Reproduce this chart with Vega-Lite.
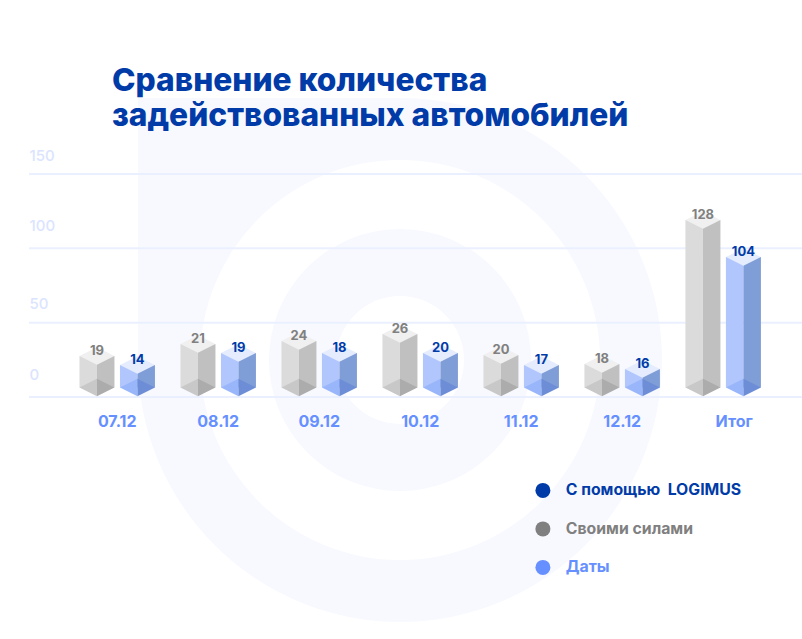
{
  "$schema": "https://vega.github.io/schema/vega-lite/v6.json",
  "width": 773,
  "height": 223,
  "padding": {"left": 29, "top": 174, "right": 0, "bottom": 242},
  "autosize": "none",
  "background": "#ffffff",
  "title": {
    "text": ["Сравнение количества", "задействованных автомобилей"],
    "anchor": "start",
    "frame": "group",
    "dx": 83,
    "offset": -35,
    "font": "Inter",
    "fontSize": 31.7,
    "fontWeight": 800,
    "lineHeight": 35.5,
    "color": "#003ba8"
  },
  "config": {
    "view": {"stroke": null},
    "font": "Inter"
  },
  "datasets": {
    "bars": [
      {"date": "07.12", "series": "Своими силами", "value": 19, "height": 27.6},
      {"date": "07.12", "series": "С помощью  LOGIMUS", "value": 14, "height": 21.5},
      {"date": "08.12", "series": "Своими силами", "value": 21, "height": 35.6},
      {"date": "08.12", "series": "С помощью  LOGIMUS", "value": 19, "height": 29.6},
      {"date": "09.12", "series": "Своими силами", "value": 24, "height": 37.7},
      {"date": "09.12", "series": "С помощью  LOGIMUS", "value": 18, "height": 29.6},
      {"date": "10.12", "series": "Своими силами", "value": 26, "height": 42.4},
      {"date": "10.12", "series": "С помощью  LOGIMUS", "value": 20, "height": 29.6},
      {"date": "11.12", "series": "Своими силами", "value": 20, "height": 28.2},
      {"date": "11.12", "series": "С помощью  LOGIMUS", "value": 17, "height": 21.5},
      {"date": "12.12", "series": "Своими силами", "value": 18, "height": 22.2},
      {"date": "12.12", "series": "С помощью  LOGIMUS", "value": 16, "height": 18.8},
      {"date": "Итог", "series": "Своими силами", "value": 128, "height": 119},
      {"date": "Итог", "series": "С помощью  LOGIMUS", "value": 104, "height": 94.1}
    ]
  },
  "layer": [
    {
      "data": {"values": [{"logo": "stem"}]},
      "mark": {"type": "point", "shape": "square", "filled": true, "opacity": 1, "fill": "#f8f9ff", "size": 68644},
      "encoding": {
        "x": {"datum": "09.12", "bandPosition": 0.003, "title": null},
        "y": {"datum": 113, "title": null}
      }
    },
    {
      "data": {"values": [{"logo": "outer"}]},
      "mark": {"type": "point", "shape": "circle", "filled": true, "opacity": 1, "fill": "#f8f9ff", "size": 274576},
      "encoding": {
        "x": {"datum": "10.12", "bandPosition": 0.3, "title": null},
        "y": {"datum": 24.9, "title": null}
      }
    },
    {
      "data": {"values": [{"logo": "gap"}]},
      "mark": {"type": "point", "shape": "circle", "filled": true, "opacity": 1, "fill": "#ffffff", "size": 160000},
      "encoding": {
        "x": {"datum": "10.12", "bandPosition": 0.3, "title": null},
        "y": {"datum": 24.9, "title": null}
      }
    },
    {
      "data": {"values": [{"logo": "inner"}]},
      "mark": {"type": "point", "shape": "circle", "filled": true, "opacity": 1, "fill": "#f8f9ff", "size": 68644},
      "encoding": {
        "x": {"datum": "10.12", "bandPosition": 0.3, "title": null},
        "y": {"datum": 24.9, "title": null}
      }
    },
    {
      "data": {"values": [{"logo": "hole"}]},
      "mark": {"type": "point", "shape": "circle", "filled": true, "opacity": 1, "fill": "#ffffff", "size": 16384},
      "encoding": {
        "x": {"datum": "10.12", "bandPosition": 0.3, "title": null},
        "y": {"datum": 24.9, "title": null}
      }
    },
    {
      "data": {"values": [{"tick": 0}, {"tick": 50}, {"tick": 100}, {"tick": 150}]},
      "mark": {"type": "rule", "color": "#eaf0ff", "strokeWidth": 2},
      "encoding": {
        "y": {"field": "tick", "type": "quantitative", "title": null}
      }
    },
    {
      "data": {"name": "bars"},
      "encoding": {
        "x": {
          "field": "date",
          "type": "nominal",
          "title": null,
          "scale": {
            "domain": ["07.12", "08.12", "09.12", "10.12", "11.12", "12.12", "Итог"],
            "paddingInner": 0,
            "paddingOuter": 0.327,
            "align": 0.571
          },
          "axis": {
            "domain": false,
            "ticks": false,
            "grid": false,
            "bandPosition": 0.5,
            "labelAngle": 0,
            "labelAlign": "center",
            "labelBaseline": "top",
            "labelPadding": 16,
            "labelOffset": {"condition": {"test": "datum.value === 'Итог'", "value": 11}, "value": 0},
            "labelFont": "Inter",
            "labelFontSize": 16,
            "labelFontWeight": 700,
            "labelColor": "#6690ff",
            "zindex": 1
          }
        },
        "xOffset": {
          "field": "series",
          "type": "nominal",
          "sort": ["Своими силами", "С помощью  LOGIMUS"],
          "scale": {"type": "band", "paddingInner": 0, "paddingOuter": 0.247}
        },
        "y": {
          "field": "height",
          "type": "quantitative",
          "title": null,
          "scale": {"domain": [0, 150], "nice": false},
          "axis": {
            "values": [0, 50, 100, 150],
            "domain": false,
            "ticks": false,
            "grid": false,
            "labelAlign": "left",
            "labelBaseline": "middle",
            "labelPadding": 0,
            "labelOffset": {"condition": {"test": "datum.value === 100 || datum.value === 0", "value": -23}, "value": -19},
            "labelFont": "Inter",
            "labelFontSize": 15,
            "labelFontWeight": 500,
            "labelColor": "#dbe4ff",
            "zindex": 1
          }
        }
      },
      "layer": [
        {
          "mark": {"type": "bar", "width": 17.5},
          "encoding": {
            "xOffset": {
              "field": "series",
              "type": "nominal",
              "sort": ["Своими силами", "С помощью  LOGIMUS"],
              "scale": {"type": "band", "paddingInner": 0, "paddingOuter": 0.247, "align": 0.0625}
            },
            "y2": {"datum": 6.4},
            "color": {
              "condition": {"test": "datum.series === 'Своими силами'", "value": "#dcdbdb"},
              "value": "#b0c6fc"
            }
          }
        },
        {
          "mark": {"type": "bar", "width": 17.5},
          "encoding": {
            "xOffset": {
              "field": "series",
              "type": "nominal",
              "sort": ["Своими силами", "С помощью  LOGIMUS"],
              "scale": {"type": "band", "paddingInner": 0, "paddingOuter": 0.247, "align": 0.9375}
            },
            "y2": {"datum": 6.4},
            "color": {
              "condition": {"test": "datum.series === 'Своими силами'", "value": "#c0c0c0"},
              "value": "#7f9dd7"
            }
          }
        },
        {
          "mark": {"type": "point", "filled": true, "opacity": 1, "size": 1225, "shape": "M0,-0.5L1,0L0,0.5L-1,0Z"},
          "encoding": {
            "color": {
              "condition": {"test": "datum.series === 'Своими силами'", "value": "#f0f0f0"},
              "value": "#e5ecfe"
            }
          }
        },
        {
          "mark": {"type": "point", "filled": true, "opacity": 1, "size": 1225, "shape": "M0,-0.5L0,0.5L-1,0Z"},
          "encoding": {
            "y": {"datum": 6.4},
            "color": {
              "condition": {"test": "datum.series === 'Своими силами'", "value": "#c8c8c8"},
              "value": "#9ab6fb"
            }
          }
        },
        {
          "mark": {"type": "point", "filled": true, "opacity": 1, "size": 1225, "shape": "M0,-0.5L1,0L0,0.5Z"},
          "encoding": {
            "y": {"datum": 6.4},
            "color": {
              "condition": {"test": "datum.series === 'Своими силами'", "value": "#acacac"},
              "value": "#6d8ed6"
            }
          }
        },
        {
          "mark": {"type": "text", "font": "Inter", "fontSize": 13, "fontWeight": 700, "dy": -5},
          "encoding": {
            "text": {"field": "value", "type": "quantitative"},
            "color": {
              "field": "series",
              "type": "nominal",
              "title": null,
              "scale": {
                "domain": ["С помощью  LOGIMUS", "Своими силами", "Даты"],
                "range": ["#003ba8", "#808080", "#6690ff"]
              },
              "legend": {
                "orient": "none",
                "legendX": 506,
                "legendY": 308.5,
                "symbolType": "circle",
                "symbolSize": 225,
                "symbolOpacity": 1,
                "symbolStrokeWidth": 0,
                "rowPadding": 21.5,
                "labelFont": "Inter",
                "labelFontSize": 15.8,
                "labelFontWeight": 700,
                "labelOffset": 15,
                "labelLimit": 300,
                "labelExpr": "replace(datum.label, '  ', '\u00a0 ')",
                "encode": {
                  "labels": {"update": {"fill": {"scale": "color", "field": "value"}}}
                }
              }
            }
          }
        }
      ],
      "resolve": {"scale": {"xOffset": "independent"}}
    }
  ]
}
